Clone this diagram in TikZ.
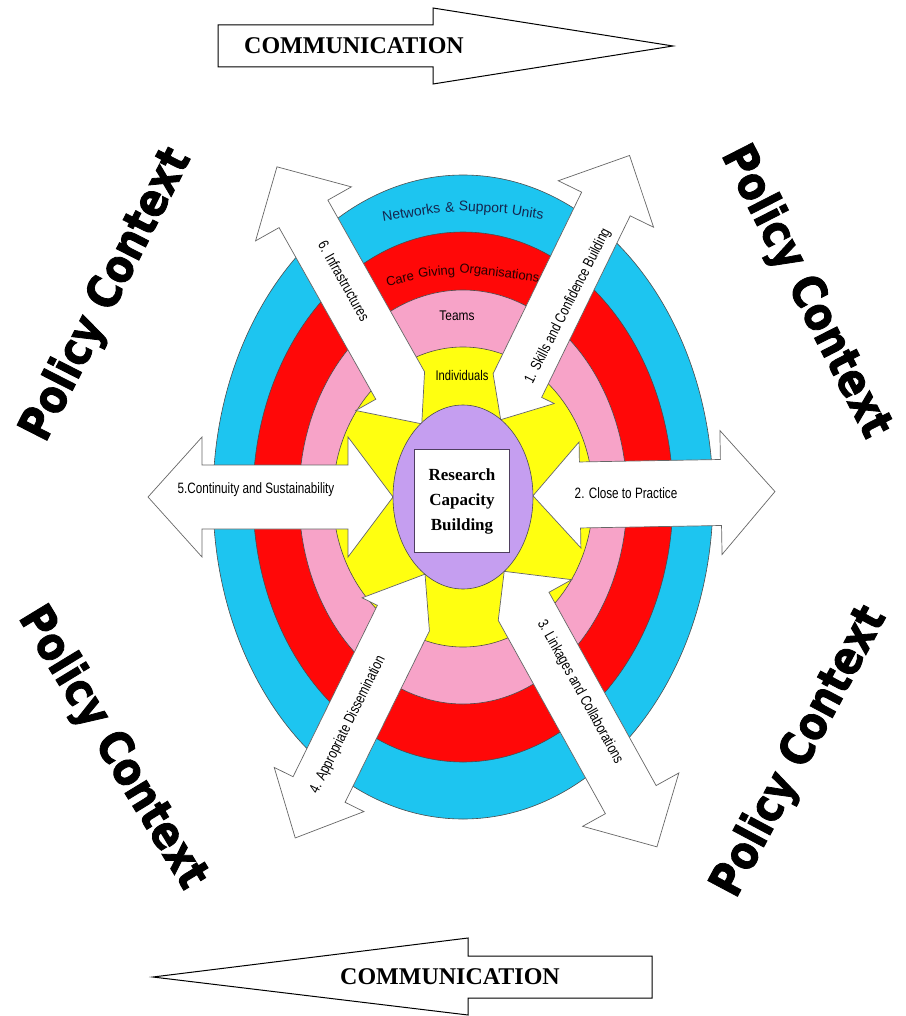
\documentclass[tikz,border=0pt]{standalone}
\usepackage{fontspec}
\setmainfont{Liberation Serif}
\setsansfont{Liberation Sans}
\newfontfamily\policyfont{DejaVu Sans}[BoldFeatures={FakeBold=2}]
\usetikzlibrary{positioning}
\definecolor{ringcyan}{HTML}{1DC5F0}
\definecolor{ringred}{HTML}{FF0808}
\definecolor{ringpink}{HTML}{F7A3C8}
\definecolor{coreyellow}{HTML}{FFFF10}
\definecolor{corelilac}{HTML}{C59EF0}
\definecolor{unitnavy}{HTML}{14264F}

\begin{document}
\begin{tikzpicture}[x=1pt, y=1pt,
  ring/.style={draw=black!70, line width=0.6pt},
  spoke/.style={draw=black!60, fill=white, line width=0.7pt, line join=miter},
  commarrow/.style={draw=black, fill=white, line width=1pt},
  commtext/.style={font=\bfseries\fontsize{24}{26}\selectfont, inner sep=0pt},
  spoketext/.style={font=\sffamily\fontsize{15}{15}\selectfont, inner sep=0pt},
  layertext/.style={font=\sffamily\fontsize{14}{14}\selectfont, inner sep=0pt, anchor=base},
  policy/.style={font=\policyfont\bfseries\fontsize{46}{46}\selectfont, inner sep=0pt},
]
  \useasboundingbox (0,0) rectangle (905,-1016);

  \draw[commarrow] (218,-25) -- (433,-25) -- (433,-8) -- (673,-46)
    -- (433,-84) -- (433,-67) -- (218,-67) -- cycle;
  \node[commtext] (commTop) at (354,-46) {COMMUNICATION};
  \draw[commarrow] (652,-956) -- (468,-956) -- (468,-938) -- (153,-977)
    -- (468,-1015) -- (468,-998) -- (652,-998) -- cycle;
  \node[commtext] (commBottom) at (450,-977) {COMMUNICATION};

  \draw[ring, fill=ringcyan] (463,-497) ellipse [x radius=250, y radius=322];
  \draw[ring, fill=ringred] (463,-497) ellipse [x radius=210, y radius=265];
  \draw[ring, fill=ringpink] (463,-497) ellipse [x radius=164, y radius=207];
  \draw[ring, fill=coreyellow] (463,-497) ellipse [x radius=130, y radius=150];

  \node[layertext, text=unitnavy, rotate=9] (netA) at (412,-217) {Networks};
  \node[layertext, text=unitnavy, rotate=3] (netB) at (450,-212) {\&};
  \node[layertext, text=unitnavy, rotate=-3] (netC) at (483,-212) {Support};
  \node[layertext, text=unitnavy, rotate=-9] (netD) at (527,-217) {Units};
  \node[layertext, font=\sffamily\fontsize{13}{13}\selectfont, text=black!85!red, rotate=13] (careA) at (401,-283) {Care};
  \node[layertext, font=\sffamily\fontsize{13}{13}\selectfont, text=black!85!red, rotate=5] (careB) at (437,-276) {Giving};
  \node[layertext, font=\sffamily\fontsize{13}{13}\selectfont, text=black!85!red, rotate=-7] (careC) at (499,-277) {Organisations};
  \node[layertext] (teams) at (457,-320) {\scalebox{0.85}[1]{Teams}};
  \node[layertext] (individuals) at (462,-380) {\scalebox{0.8}[1]{Individuals}};

  \foreach \ang/\len/\tip/\ub/\cl/\cr/\bw/\hw in {64/380/86/124/27/41/27/53,
      1/312/70/117/53/53/33/62, -61/400/85/125/55/29/29/55,
      243.8/380/86/135/29/46/29/50, 180/315/70/115/60/60/32/60,
      119.4/379/84/128/51/28/28/55} {
    \begin{scope}[shift={(463,-497)}, rotate=\ang]
      \draw[spoke] (\tip,0) -- (\ub,\cl) -- (\ub,\bw) -- (\len-54,\bw)
        -- (\len-54,\hw) -- (\len,0) -- (\len-54,-\hw) -- (\len-54,-\bw)
        -- (\ub,-\bw) -- (\ub,-\cr) -- cycle;
    \end{scope}
  }

  \node[spoketext, rotate=63] (skills) at (568,-306) {\scalebox{0.78}[1]{1. Skills and Confidence Building}};
  \node[spoketext] (practice) at (626,-493) {\scalebox{0.78}[1]{2. Close to Practice}};
  \node[spoketext, rotate=-61] (linkages) at (580,-692) {\scalebox{0.78}[1]{3. Linkages and Collaborations}};
  \node[spoketext, rotate=63.5] (dissemination) at (348,-725) {\scalebox{0.78}[1]{4. Appropriate Dissemination}};
  \node[spoketext] (continuity) at (256,-490) {\scalebox{0.78}[1]{5.Continuity and Sustainability}};
  \node[spoketext, rotate=-60.6] (infra) at (344,-281) {\scalebox{0.78}[1]{6. Infrastructures}};

  \draw[ring, fill=corelilac] (463,-497) ellipse [x radius=70, y radius=92];
  \node[draw=black!60!corelilac, fill=white, line width=0.8pt, minimum width=95pt, minimum height=103pt,
    align=center, font=\bfseries\fontsize{17}{25}\selectfont] (core) at (462,-501)
    {Research\\Capacity\\Building};

  \node[policy, rotate=63] (policyNW) at (107,-295) {\scalebox{0.86}[1]{Policy Context}};
  \node[policy, rotate=-63] (policyNE) at (805,-292) {\scalebox{0.86}[1]{Policy Context}};
  \node[policy, rotate=-58.7] (policySW) at (112,-748) {\scalebox{0.86}[1]{Policy Context}};
  \node[policy, rotate=62] (policySE) at (800,-752) {\scalebox{0.86}[1]{Policy Context}};
\end{tikzpicture}
\end{document}
